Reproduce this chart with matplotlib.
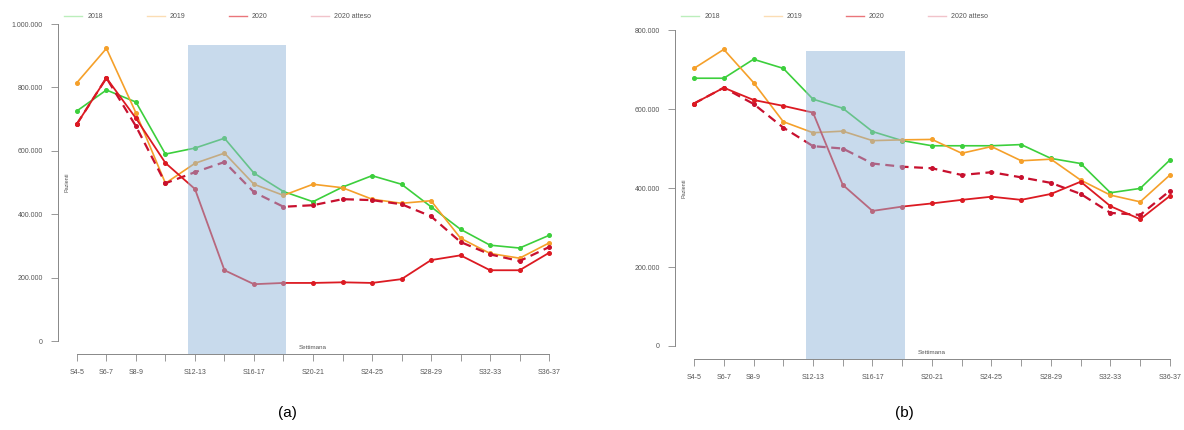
import matplotlib.pyplot as plt
from matplotlib.lines import Line2D

# weeks on the x axis (pairs of weeks)
weeks = ["S4-5", "S6-7", "S8-9", "S10-11", "S12-13", "S14-15", "S16-17", "S18-19",
         "S20-21", "S22-23", "S24-25", "S26-27", "S28-29", "S30-31", "S32-33",
         "S34-35", "S36-37"]

# panel (a), thousands of patients
a_2018 = [726, 792, 754, 590, 609, 640, 530, 472, 440, 486, 522, 495, 424, 353, 303, 294, 334]
a_2019 = [815, 923, 720, 498, 561, 593, 495, 460, 495, 484, 448, 435, 443, 325, 277, 262, 310]
a_2020 = [685, 830, 703, 562, 480, 224, 180, 184, 184, 186, 184, 196, 256, 271, 224, 224, 279]
a_2020_atteso = [685, 830, 678, 498, 533, 565, 470, 424, 429, 448, 445, 432, 394, 313, 274, 253, 297]

# panel (b), thousands of patients
b_2018 = [678, 678, 726, 703, 625, 602, 543, 520, 507, 507, 507, 510, 475, 462, 388, 399, 471]
b_2019 = [703, 751, 667, 568, 540, 544, 520, 522, 523, 488, 505, 469, 473, 420, 382, 365, 433]
b_2020 = [614, 654, 623, 608, 591, 408, 342, 353, 361, 370, 378, 370, 385, 416, 354, 321, 380]
b_2020_atteso = [614, 654, 613, 553, 506, 500, 462, 454, 450, 433, 440, 427, 413, 385, 337, 332, 393]

legend_labels = ["2018", "2019", "2020", "2020 atteso"]

GREEN = "#3ccf3c"
ORANGE = "#f5a02a"
RED = "#dc1a22"
DRED = "#c8102e"
TXT = "#555555"

plt.rcParams["font.family"] = ["Liberation Sans", "DejaVu Sans"]


def fmt(v):
    return f"{v:,.0f}".replace(",", ".")


def draw_panel(fig, ax, s18, s19, s20, s20a, ymax, shade_top, leg_x):
    x = list(range(len(weeks)))
    k = 1000
    ax.plot(x, [v * k for v in s18], color=GREEN, lw=1.2, marker="o", ms=2.6)
    ax.plot(x, [v * k for v in s19], color=ORANGE, lw=1.2, marker="o", ms=2.6)
    ax.plot(x, [v * k for v in s20a], color=DRED, lw=1.6, ls=(0, (4, 2.5)),
            marker="o", ms=2.6)
    ax.plot(x, [v * k for v in s20], color=RED, lw=1.3, marker="o", ms=2.6)

    pad = 0.04 * ymax
    ax.set_xlim(-0.64, len(weeks) - 1 + 0.64)
    ax.set_ylim(-pad, ymax + pad)

    # lockdown period, drawn over the lines
    ax.fill_between([3.75, 7.1], -pad, shade_top, color="#93b6da", alpha=0.5,
                    lw=0, zorder=5)

    yt = list(range(0, ymax + 1, 200000))
    ax.set_yticks(yt)
    ax.set_yticklabels([fmt(v) for v in yt])
    ax.set_xticks(x)
    ax.set_xticklabels([w if (i < 3 or i % 2 == 0) else "" for i, w in enumerate(weeks)])

    for s in ["top", "right"]:
        ax.spines[s].set_visible(False)
    ax.spines["left"].set_bounds(0, ymax)
    ax.spines["bottom"].set_bounds(0, len(weeks) - 1)
    for s in ["left", "bottom"]:
        ax.spines[s].set_color("#888888")
        ax.spines[s].set_linewidth(0.7)
    ax.tick_params(length=5, width=0.6, color="#888888", labelsize=5,
                   labelcolor=TXT, pad=6)

    ax.text(0.012, 0.5, "Pazienti", rotation=90, fontsize=4, color=TXT,
            transform=ax.transAxes, ha="left", va="center")
    ax.text(0.5, 0.012, "Settimana", fontsize=4.5, color=TXT,
            transform=ax.transAxes, ha="center", va="bottom")

    handles = [Line2D([], [], color=GREEN, lw=1, alpha=0.35),
               Line2D([], [], color=ORANGE, lw=1, alpha=0.35),
               Line2D([], [], color=RED, lw=1, alpha=0.6),
               Line2D([], [], color=DRED, lw=1, alpha=0.25)]
    ax.legend(handles, legend_labels, ncol=4, frameon=False, fontsize=5,
              loc="center left", bbox_to_anchor=(leg_x, 1 - 17 / 430),
              bbox_transform=fig.transFigure,
              handlelength=2.6, handletextpad=0.7, columnspacing=6.3,
              labelcolor=TXT)


fig = plt.figure(figsize=(11.84, 4.30), dpi=100)
ax_a = fig.add_axes([0.049, 0.1767, 0.4307, 0.797])
ax_b = fig.add_axes([0.5701, 0.166, 0.4341, 0.7935])

draw_panel(fig, ax_a, a_2018, a_2019, a_2020, a_2020_atteso, 1000000, 934000, 0.049)
draw_panel(fig, ax_b, b_2018, b_2019, b_2020, b_2020_atteso, 800000, 747000, 0.5701)

fig.text(287 / 1184, 1 - 413 / 430, "(a)", fontsize=11, ha="center", va="center")
fig.text(904 / 1184, 1 - 413 / 430, "(b)", fontsize=11, ha="center", va="center")

fig.savefig("out.png", dpi=100)
